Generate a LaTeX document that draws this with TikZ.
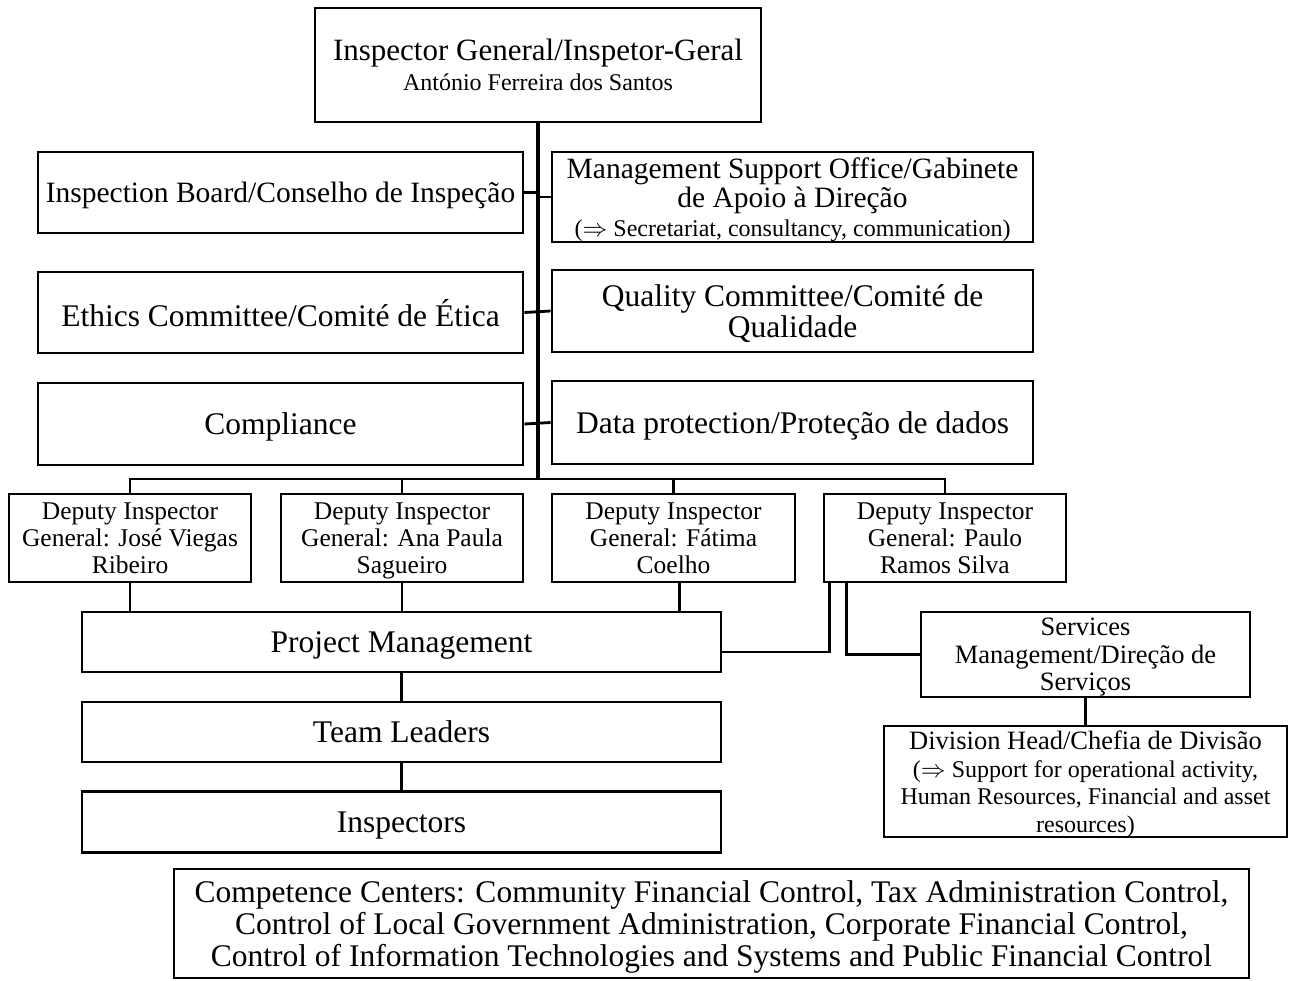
\documentclass[tikz,border=0pt]{standalone}
\usepackage{fontspec}
\setmainfont{Liberation Serif}
\usetikzlibrary{calc}
\tikzset{
  box/.style={draw, line width=2.8pt, inner sep=0pt, align=center, fill=white, text depth=0pt},
  conn/.style={line width=2.8pt},
  trunk/.style={line width=3.8pt},
  big/.style={font=\fontsize{31.5}{31.5}\selectfont},
  topf/.style={font=\fontsize{31}{30}\selectfont},
  ibf/.style={font=\fontsize{29.5}{30}\selectfont},
  mid/.style={font=\fontsize{29.5}{29}\selectfont},
  dep/.style={font=\fontsize{25.5}{27}\selectfont},
  srvf/.style={font=\fontsize{26.5}{27.5}\selectfont},
  cen/.style={font=\fontsize{31.5}{32}\selectfont},
}
\begin{document}
\begin{tikzpicture}[x=1pt,y=-1pt]
\useasboundingbox (0,0) rectangle (1293,980);
\fill[white] (0,0) rectangle (1293,980);

\node[box,topf,minimum width=446pt,minimum height=114pt] (top) at (538,65)
  {Inspector General/Inspetor-Geral\\{\fontsize{24}{26}\selectfont António Ferreira dos Santos}};

\node[box,ibf,minimum width=485pt,minimum height=81pt] (ib) at (280.5,192.5) {Inspection Board/Conselho de Inspeção};
\node[box,mid,minimum width=481pt,minimum height=90pt] (mso) at (792.5,197)
  {Management Support Office/Gabinete\\de Apoio à Direção\\{\fontsize{24}{24}\selectfont ($\Rightarrow$ Secretariat, consultancy, communication)}};
\node[box,big,minimum width=485pt,minimum height=81pt] (eth) at (280.5,312.5) {Ethics Committee/Comité de Ética};
\node[box,big,minimum width=481pt,minimum height=82pt] (qual) at (792.5,311) {Quality Committee/Comité de\\Qualidade};
\node[box,big,minimum width=485pt,minimum height=82pt] (comp) at (280.5,424) {Compliance};
\node[box,big,minimum width=481pt,minimum height=83pt] (dp) at (792.5,422.5) {Data protection/Proteção de dados};

\node[box,dep,minimum width=242pt,minimum height=88pt] (d1) at (130,538) {Deputy Inspector\\General: José Viegas\\Ribeiro};
\node[box,dep,minimum width=242pt,minimum height=88pt] (d2) at (402,538) {Deputy Inspector\\General: Ana Paula\\Sagueiro};
\node[box,dep,minimum width=243pt,minimum height=88pt] (d3) at (673.5,538) {Deputy Inspector\\General: Fátima\\Coelho};
\node[box,dep,minimum width=242pt,minimum height=88pt] (d4) at (945,538) {Deputy Inspector\\General: Paulo\\Ramos Silva};

\node[box,big,minimum width=639pt,minimum height=60pt] (pm) at (401.5,642) {Project Management};
\node[box,big,minimum width=639pt,minimum height=60pt] (tl) at (401.5,732) {Team Leaders};
\node[box,big,minimum width=639pt,minimum height=61pt] (insp) at (401.5,822) {Inspectors};

\node[box,srvf,minimum width=329pt,minimum height=85pt] (srv) at (1085.5,654.5) {Services\\Management/Direção de\\Serviços};
\node[box,srvf,minimum width=403pt,minimum height=111pt] (div) at (1085.5,781.5)
  {Division Head/Chefia de Divisão\\{\fontsize{24}{26}\selectfont ($\Rightarrow$ Support for operational activity,}\\{\fontsize{24}{26}\selectfont Human Resources, Financial and asset}\\{\fontsize{24}{26}\selectfont resources)}};

\node[box,cen,minimum width=1075pt,minimum height=109pt] (cc) at (711.5,923.5)
  {Competence Centers: Community Financial Control, Tax Administration Control,\\Control of Local Government Administration, Corporate Financial Control,\\Control of Information Technologies and Systems and Public Financial Control};

% trunk and bus
\coordinate (busc) at (538,479);
\draw[trunk] (top.south) -- (busc);
\draw[conn] (ib.east) -- (ib.east -| busc);
\draw[conn] (busc |- mso.west) -- (mso.west);
\draw[conn] (eth.east) -- (qual.west);
\draw[conn] (comp.east) -- (dp.west);
\draw[conn] (d1.north) |- (busc) -| (d4.north);
\draw[conn] (d2.north) -- (d2.north |- busc);
\draw[conn] (d3.north) -- (d3.north |- busc);

% deputies to project management
\draw[conn] (d1.south) -- (d1.south |- pm.north);
\draw[conn] (d2.south) -- (d2.south |- pm.north);
\coordinate (d3b) at ($(d3.south)+(6,0)$);
\draw[conn] (d3b) -- (d3b |- pm.north);
\coordinate (d4a) at ($(d4.south west)+(7,0)$);
\coordinate (d4b) at ($(d4.south west)+(24,0)$);
\coordinate (pme) at ($(pm.east)+(0,10)$);
\draw[conn] (d4a) |- (pme);
\draw[conn] (d4b) |- (srv.west);
\draw[conn] (srv.south) -- (div.north);
\draw[conn] (pm.south) -- (tl.north);
\draw[conn] (tl.south) -- (insp.north);
\end{tikzpicture}
\end{document}
